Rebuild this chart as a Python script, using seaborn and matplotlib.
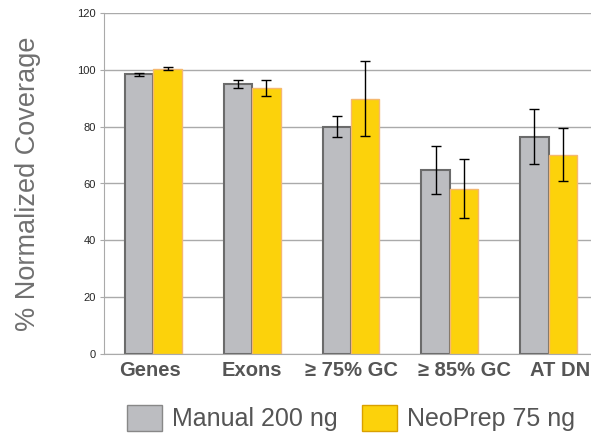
import matplotlib
matplotlib.use("Agg")
import matplotlib.pyplot as plt
import matplotlib.transforms as mtransforms
import numpy as np
import pandas as pd
import seaborn as sns
from matplotlib.patches import Patch

categories = ["Genes", "Exons", "\u2265 75% GC", "\u2265 85% GC", "AT DN"]
series = ["Manual 200 ng", "NeoPrep 75 ng"]
manual = [98.4, 95.1, 80.0, 64.7, 76.5]
manual_err = [0.5, 1.4, 3.7, 8.5, 9.7]
neoprep = [100.4, 93.6, 89.8, 58.2, 70.2]
neoprep_err = [0.6, 2.8, 13.2, 10.5, 9.2]

colors = ["#BCBDC1", "#FCD20B"]
edges = ["#6B6B6B", "#F5B870"]

df = pd.DataFrame({
    "category": categories * 2,
    "series": [series[0]] * 5 + [series[1]] * 5,
    "value": manual + neoprep,
    "err": manual_err + neoprep_err,
})

sns.set_style("white")
plt.rcParams["font.family"] = ["Liberation Sans", "DejaVu Sans"]

fig = plt.figure(figsize=(5.91, 4.36), dpi=100)
ax = fig.add_axes([104 / 591, 1 - 354 / 436, 1 - 104 / 591, (354 - 13) / 436])

sns.barplot(data=df, x="category", y="value", hue="series", order=categories,
            hue_order=series, palette=colors, saturation=1, width=0.576,
            errorbar=None, legend=False, ax=ax, zorder=2)

bar_containers = list(ax.containers)
for i, container in enumerate(bar_containers):
    errs = df[df["series"] == series[i]]["err"].values
    for bar, e in zip(container, errs):
        bar.set_edgecolor(edges[i])
        bar.set_linewidth(1.5 if i == 0 else 1.0)
        x = bar.get_x() + bar.get_width() / 2
        ax.errorbar(x, bar.get_height(), yerr=e, fmt="none", ecolor="black",
                    elinewidth=1.0, capsize=3.5, capthick=1.0, zorder=3)

ax.set_ylim(0, 120)
ax.set_xlim(-0.5, 4.43)
ax.set_yticks(range(0, 121, 20))
ax.yaxis.grid(True, color="#AAAAAA", linewidth=1.0, zorder=0)
ax.set_axisbelow(True)
for s in ["top", "right"]:
    ax.spines[s].set_visible(False)
ax.spines["left"].set_color("#AAAAAA")
ax.spines["bottom"].set_color("#AAAAAA")
ax.tick_params(axis="y", length=3, color="#AAAAAA", labelsize=8, pad=3, left=True)
ax.tick_params(axis="x", length=0, labelsize=14.5, pad=5, colors="#555555")
# the last two labels sit a little to the right of their groups in the original
shifts = [-3, 0, 0, 15, 12]
for lbl, dx in zip(ax.get_xticklabels(), shifts):
    lbl.set_fontweight("bold")
    lbl.set_transform(lbl.get_transform() + mtransforms.ScaledTranslation(dx / 100, 0, fig.dpi_scale_trans))
ax.set_xlabel("")
ax.set_ylabel("% Normalized Coverage", fontsize=19.5, color="#707070", labelpad=26)

handles = [Patch(facecolor=colors[0], edgecolor="#888888", linewidth=1.0),
           Patch(facecolor=colors[1], edgecolor="#D9A000", linewidth=1.0)]
fig.legend(handles, series, loc="upper center", bbox_to_anchor=(0.594, 0.071), ncol=2,
           frameon=False, fontsize=18, handlelength=1.4, handleheight=1.2,
           columnspacing=1.0, handletextpad=0.4, labelcolor="#555555",
           borderpad=0, borderaxespad=0)

fig.savefig("out.png", dpi=100)
